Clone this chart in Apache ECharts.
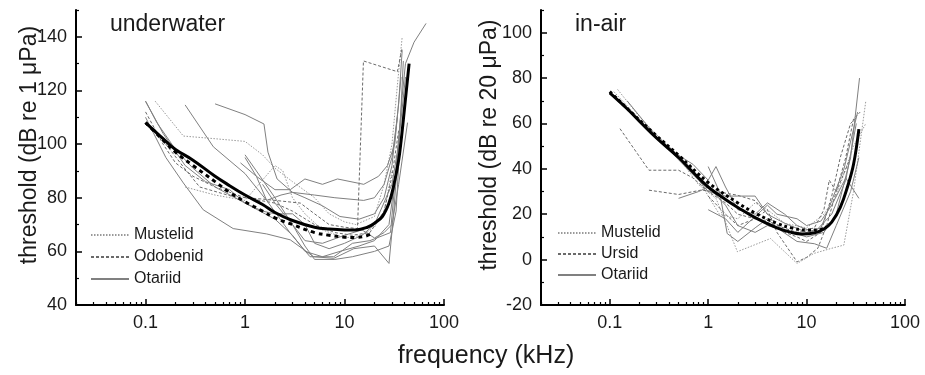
<!DOCTYPE html>
<html>
<head>
<meta charset="utf-8">
<script src="https://cdn.jsdelivr.net/npm/echarts@6/dist/echarts.min.js"></script>
<style>
html,body{margin:0;padding:0;background:#fff;}
#chart{width:925px;height:375px;}
</style>
</head>
<body>
<div id="chart"></div>
<script>
// ---------------- DATA (frequency kHz, threshold dB) ----------------
// Underwater panel
const uwMustelid = [
  [[0.125,116],[0.24,103],[0.5,102],[1,101],[1.5,96],[2,91],[3,86],[5,80],[7,74],[10,71],[13,70],[20,73],[25,85],[30,100],[34,122],[38,140]],
  [[0.25,84],[0.5,81],[1,79],[2,92],[2.4,90],[3,80],[4,74],[6,68],[10,65],[15,66],[20,69],[25,75],[30,90]]
];
const uwOdobenid = [
  [[0.12,106],[0.24,91.5],[0.35,84],[0.76,80.4],[1.5,79.5],[3.6,78],[5,74],[7,70],[10,69],[13.5,68.5],[15.5,131],[34,127],[38,136]],
  [[0.1,112],[0.15,100],[0.2,93],[0.3,88],[0.5,84],[1,80],[2,78],[3,75],[5,70],[8,67],[12,66],[18,67],[25,75],[30,88],[35,105]]
];
const uwOtariid = [
  [[0.5,115],[1,111],[1.55,107.5],[1.7,97],[2.1,87],[3,82],[4,80],[6,77],[9,73],[14,72],[20,74],[25,80],[30,92],[35,115],[38,135]],
  [[0.1,110],[0.16,95],[0.24,85.5],[0.38,75.5],[0.76,68.5],[1.65,66.5],[2.85,64.3],[4.9,58],[7.8,57.4],[12.4,61],[20,62],[28,55.5],[31,73],[36,105],[41,125]],
  [[0.1,116],[0.13,108],[0.2,98],[0.3,91],[0.5,84],[1,78],[2,72],[3,66],[4,60],[6,58],[9,60],[14,62],[20,64],[28,70],[33,90],[38,118],[41,130],[50,138],[66,145]],
  [[1,95],[1.3,88],[2,83],[2.85,83],[4,87],[6,85],[8.5,87],[15.6,85],[22,88],[27,92],[32,100],[37,125]],
  [[0.9,93],[1.3,88],[1.65,79],[2.3,81],[3,82],[5,81],[8,80],[15.6,79],[20,80],[25,85],[30,95],[34,110]],
  [[0.25,114.6],[0.48,99],[1,89],[1.65,79],[2.85,66.8],[4.5,58],[7.8,58],[12,63],[18,64],[29,67],[36.6,110],[39,131]],
  [[1.5,85],[2,78],[3,70],[4,64],[6,63],[10,66],[15,68],[20,65],[25,67],[30,70],[35,85],[43,108]],
  [[1,96],[1.3,90],[2,80],[3,70],[4,62],[5,57],[8,57],[12,58],[20,60],[28,62],[33,75],[36,100]],
  [[0.1,116],[0.15,104],[0.25,92],[0.4,86],[0.7,83],[1,78],[1.5,75],[2,74],[3,74],[4,70],[5,63],[7,61],[10,63],[15,66],[20,70],[30,85],[35,100]]
];
const uwMeanSolid = [[0.1,108],[0.15,102],[0.2,98],[0.3,94],[0.5,88],[0.7,84.5],[1,81],[1.5,77.5],[2,74.5],[3,71.5],[5,69],[7,68.3],[10,68],[13,68],[17,69],[20,70.5],[24,73],[28,78],[31,84],[35,94],[37,101],[40,113],[44.6,130]];
const uwMeanDashed = [[0.1,108],[0.15,101.5],[0.2,97],[0.3,92],[0.5,86],[0.7,82],[1,78.5],[1.5,75],[2,72.5],[3,70],[5,67],[7,66],[10,65.3],[13,65.2],[16,65.6],[18.6,66.5]];

// In-air panel
const airMustelid = [
  [[0.12,75],[0.2,63],[0.3,55],[0.5,45],[0.8,33],[1.2,27],[1.98,3.5],[4.3,9.3],[8,-1.7],[11.8,2.7],[18,5],[23.9,6.4],[30,30],[40,70]],
  [[0.11,74],[0.2,62],[0.4,50],[0.7,40],[1,28],[1.3,20],[2,18],[3,25],[4,22],[6,16],[10,14],[15,20],[20,28],[30,50],[40,60]]
];
const airUrsid = [
  [[0.127,57.7],[0.25,39.4],[0.5,39.4],[0.7,36],[1,30],[1.5,25],[2,20],[3,18],[5,15],[8,12],[12,14],[15,22],[17,35],[20,30],[25,45],[30,62],[35,65]],
  [[0.25,30.6],[0.5,28.7],[0.84,30.6],[1.2,30],[1.98,28.4],[3,26],[4,20],[6,12],[8,10],[10,8],[14,12],[18,28],[22,45],[28,60],[33,63]],
  [[1,28],[1.5,20],[2,15],[3,18],[4,22],[5,12],[8,-1],[10,1],[13,5],[16,15],[20,30],[28,45]]
];
const airOtariid = [
  [[0.5,27],[0.8,30],[1,32],[1.5,24],[2,15],[3,12],[4,15],[6,13],[10,10],[15,12],[20,20],[28,45],[34.5,80]],
  [[0.5,46],[0.7,42],[1,35],[1.2,41],[1.5,32],[2,22],[3,20],[4,25],[6,20],[8,15],[12,12],[18,20],[25,35],[32,60]],
  [[1,41],[1.3,30],[1.56,11.5],[2,8],[3,14],[4,18],[5,14],[8,8],[12,7],[16,5],[20,15],[28,30],[34,45]],
  [[0.15,70],[0.3,54],[0.5,44],[0.8,35],[1,30],[1.5,28],[2,28],[3,28],[4,20],[6,16],[10,12],[14,14],[18,26],[24,40],[33,65]],
  [[1,22],[1.5,18],[2,12],[3,19],[4,24],[5,20],[8,18],[10,15],[14,17],[18,24],[25,36],[34,27]]
];
const airMeanSolid = [[0.1,73.5],[0.15,66.5],[0.2,61],[0.3,53.5],[0.5,45],[0.7,38.5],[1,32],[1.5,26.5],[2,23],[3,18.5],[5,14],[7,12],[9,11.3],[12,11.8],[15,13.5],[18,16.5],[22,23],[26,32],[30,42],[34,57.5]];
const airMeanDotted = [[0.1,74],[0.2,61.5],[0.3,54.5],[0.5,46],[1,34],[2,25],[3,20.5],[5,16],[7,14],[10,13],[13,13],[16,14.5]];

// Axis ticks
const xTickValues = [0.1, 1, 10, 100];
const xTickLabels = ['0.1', '1', '10', '100'];
const xMinorValues = [0.02,0.03,0.04,0.05,0.06,0.07,0.08,0.09,0.2,0.3,0.4,0.5,0.6,0.7,0.8,0.9,2,3,4,5,6,7,8,9,20,30,40,50,60,70,80,90];
const xRange = [0.02, 100];
const uwYTicks = [40, 60, 80, 100, 120, 140];
const uwYMinor = [50, 70, 90, 110, 130, 150];
const uwYRange = [40, 150];
const airYTicks = [-20, 0, 20, 40, 60, 80, 100];
const airYMinor = [-10, 10, 30, 50, 70, 90, 110];
const airYRange = [-20, 110];

// ---------------- CHART ----------------
const FONT = '"Liberation Sans", Arial, Helvetica, sans-serif';
const TXT = '#1a1a1a';
const lg = Math.log10;

function xAxes(gi) {
  const fmt = v => {
    const i = xTickValues.findIndex(t => Math.abs(lg(t) - v) < 1e-6);
    return i >= 0 ? xTickLabels[i] : '';
  };
  return [
    { type: 'value', gridIndex: gi, min: lg(xRange[0]), max: lg(xRange[1]), position: 'bottom',
      axisLine: { show: true, onZero: false, lineStyle: { color: '#000', width: 2 } },
      axisTick: { show: true, inside: true, length: 6, customValues: xTickValues.map(lg), lineStyle: { color: '#000', width: 1.5 } },
      axisLabel: { show: true, customValues: xTickValues.map(lg), formatter: fmt, fontSize: 18, color: TXT, fontFamily: FONT, margin: 9 },
      splitLine: { show: false } },
    { type: 'value', gridIndex: gi, min: lg(xRange[0]), max: lg(xRange[1]), position: 'bottom',
      axisLine: { show: false, onZero: false },
      axisTick: { show: true, inside: true, length: 3, customValues: xMinorValues.map(lg), lineStyle: { color: '#000', width: 1.2 } },
      axisLabel: { show: false }, splitLine: { show: false } }
  ];
}
function yAxes(gi, range, ticks, minor) {
  return [
    { type: 'value', gridIndex: gi, min: range[0], max: range[1], position: 'left',
      axisLine: { show: true, onZero: false, lineStyle: { color: '#000', width: 2 } },
      axisTick: { show: true, inside: true, length: 6, customValues: ticks, lineStyle: { color: '#000', width: 1.5 } },
      axisLabel: { show: true, customValues: ticks, fontSize: 18, color: TXT, fontFamily: FONT, margin: 9 },
      splitLine: { show: false } },
    { type: 'value', gridIndex: gi, min: range[0], max: range[1], position: 'left', offset: 0,
      axisLine: { show: false, onZero: false },
      axisTick: { show: true, inside: true, length: 3, customValues: minor, lineStyle: { color: '#000', width: 1.2 } },
      axisLabel: { show: false }, splitLine: { show: false } }
  ];
}

const series = [];
function addLines(lines, name, xi, yi, style, smooth) {
  lines.forEach(line => {
    series.push({
      type: 'line', name: name, xAxisIndex: xi, yAxisIndex: yi,
      data: line.map(p => [lg(p[0]), p[1]]),
      symbol: 'none', silent: true, animation: false, smooth: smooth || false,
      itemStyle: { color: 'rgba(0,0,0,0)' },
      lineStyle: style, z: smooth ? 3 : 2
    });
  });
}
const stMustelid = { color: '#9a9a9a', width: 1, type: [1.5, 1.5] };
const stDashed = { color: '#6a6a6a', width: 1, type: [3, 2] };
const stOtariid = { color: '#808080', width: 1, type: 'solid' };

addLines(uwMustelid, 'Mustelid', 0, 0, stMustelid);
addLines(uwOdobenid, 'Odobenid', 0, 0, stDashed);
addLines(uwOtariid, 'Otariid', 0, 0, stOtariid);
addLines([uwMeanDashed], 'uwMeanDashed', 0, 0, { color: '#000', width: 3, type: [4, 4] }, 0.4);
addLines([uwMeanSolid], 'uwMeanSolid', 0, 0, { color: '#000', width: 3, type: 'solid' }, 0.4);

addLines(airMustelid, 'Mustelid', 2, 2, stMustelid);
addLines(airUrsid, 'Ursid', 2, 2, stDashed);
addLines(airOtariid, 'Otariid', 2, 2, stOtariid);
addLines([airMeanDotted], 'airMeanDotted', 2, 2, { color: '#000', width: 3, type: [3, 3] }, 0.4);
addLines([airMeanSolid], 'airMeanSolid', 2, 2, { color: '#000', width: 3, type: 'solid' }, 0.4);

const legendCommon = {
  orient: 'vertical', itemWidth: 38, itemHeight: 10, selectedMode: false,
  itemStyle: { opacity: 0 },
  textStyle: { fontSize: 16, color: TXT, fontFamily: FONT }, padding: 0
};

const option = {
  animation: false,
  backgroundColor: '#fff',
  grid: [
    { left: 76, top: 10, width: 368, height: 295 },
    { left: 541, top: 10, width: 364, height: 295 }
  ],
  xAxis: [...xAxes(0), ...xAxes(1)],
  yAxis: [...yAxes(0, uwYRange, uwYTicks, uwYMinor), ...yAxes(1, airYRange, airYTicks, airYMinor)],
  legend: [
    Object.assign({ data: ['Mustelid', 'Odobenid', 'Otariid'], left: 90, top: 227, itemGap: 6 }, legendCommon),
    Object.assign({ data: ['Mustelid', 'Ursid', 'Otariid'], left: 557, top: 225, itemGap: 5 }, legendCommon)
  ],
  graphic: [
    { type: 'text', x: 110, y: 25, style: { text: 'underwater', font: '23px ' + FONT, fill: TXT, verticalAlign: 'middle' } },
    { type: 'text', x: 575, y: 25, style: { text: 'in-air', font: '23px ' + FONT, fill: TXT, verticalAlign: 'middle' } },
    { type: 'text', x: 486, y: 356, style: { text: 'frequency (kHz)', font: '25px ' + FONT, fill: TXT, align: 'center', verticalAlign: 'middle' } },
    { type: 'text', x: 30, y: 145, rotation: Math.PI / 2, style: { text: 'threshold (dB re 1 \u03bcPa)', font: '23px ' + FONT, fill: TXT, align: 'center', verticalAlign: 'middle' } },
    { type: 'text', x: 490, y: 145, rotation: Math.PI / 2, style: { text: 'threshold (dB re 20 \u03bcPa)', font: '23px ' + FONT, fill: TXT, align: 'center', verticalAlign: 'middle' } }
  ],
  series: series
};

const chart = echarts.init(document.getElementById('chart'), null, { renderer: 'canvas' });
chart.setOption(option);
</script>
</body>
</html>
